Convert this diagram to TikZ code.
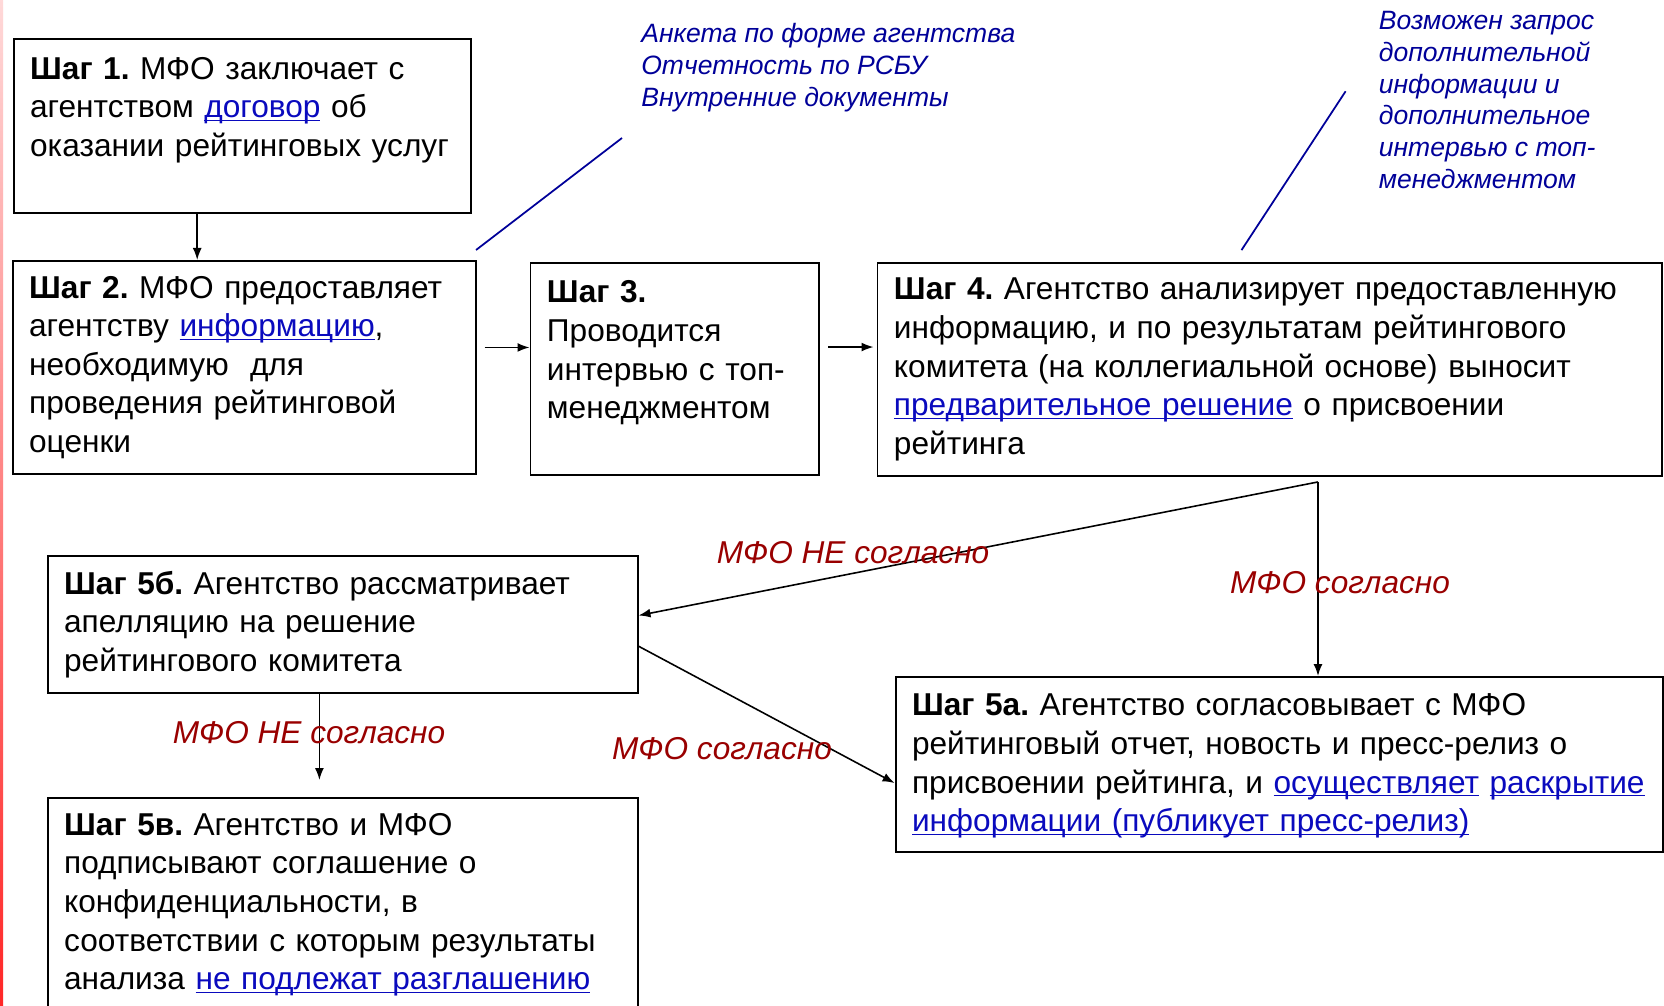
\documentclass[tikz,border=0pt]{standalone}
\usepackage{fontspec}
\setmainfont{Liberation Sans}
\usetikzlibrary{arrows.meta,calc}
\frenchspacing
\definecolor{ssyl}{RGB}{10,10,190}
\definecolor{siniy}{RGB}{0,0,153}
\definecolor{bordo}{RGB}{153,0,0}
\newcommand{\ssylka}[1]{\textcolor{ssyl}{\underline{\smash{#1}}}}
\tikzset{
  shag/.style={draw,line width=1.1pt,anchor=north west,align=left,inner xsep=0.33cm,inner ysep=0.3cm,
    font=\fontsize{18}{22}\selectfont},
  strelka/.style={line width=0.9pt,-{Latex[length=2.4mm,width=1.8mm]}},
  podpis/.style={text=bordo,font=\fontsize{18}{22}\selectfont\itshape,inner sep=0pt},
  primech/.style={text=siniy,font=\fontsize{15.1}{18.2}\selectfont\itshape,align=left,anchor=west,inner sep=0pt},
  vynoska/.style={draw=siniy,line width=1pt},
}

\begin{document}
\begin{tikzpicture}[x=0.02cm,y=-0.02cm]
  \useasboundingbox (0,0) rectangle (1664,1006);
  \clip (0,0) rectangle (1664,1006);
  \fill[white] (0,0) rectangle (1664,1006);
  \shade[top color=red!15,bottom color=red!85] (0,0) rectangle (3,1006);

  \node[shag,text width=8.49cm,minimum height=3.48cm] (b1) at (12.7,38.2)
    {\textbf{Шаг 1.} МФО заключает с\\ агентством \ssylka{договор} об\\ оказании рейтинговых услуг\\ \mbox{}};
  \node[shag,text width=8.61cm,minimum height=4.24cm] (b2) at (11.7,260)
    {\textbf{Шаг 2.} МФО предоставляет\\ агентству \ssylka{информацию},\\ необходимую\ \ для\\ проведения рейтинговой\\ оценки};
  \node[shag,text width=5.11cm,minimum height=4.24cm] (b3) at (529.5,262.1)
    {\textbf{Шаг 3.}\\ Проводится\\ интервью с топ-\\ менеджментом\\ \mbox{}};
  \node[shag,text width=15.03cm,minimum height=4.24cm] (b4) at (876.5,262.1)
    {\textbf{Шаг 4.} Агентство анализирует предоставленную\\ информацию, и по результатам рейтингового\\
     комитета (на коллегиальной основе) выносит\\ \ssylka{предварительное решение} о присвоении\\ рейтинга};
  \node[shag,text width=11.14cm,minimum height=2.74cm] (b5b) at (46.7,555)
    {\textbf{Шаг 5б.} Агентство рассматривает\\ апелляцию на решение\\ рейтингового комитета};
  \node[shag,text width=14.7cm,minimum height=3.5cm] (b5a) at (894.6,676)
    {\textbf{Шаг 5а.} Агентство согласовывает с МФО\\ рейтинговый отчет, новость и пресс-релиз о\\
     присвоении рейтинга, и \ssylka{осуществляет} \ssylka{раскрытие}\\ \ssylka{информации (публикует пресс-релиз)}};
  \node[shag,text width=11.14cm] (b5v) at (46.7,797)
    {\textbf{Шаг 5в.} Агентство и МФО\\ подписывают соглашение о\\ конфиденциальности, в\\
     соответствии с которым результаты\\ анализа \ssylka{не подлежат разглашению}\\ \mbox{}};

  \node[primech] (a1) at (641,68) {Анкета по форме агентства\\ Отчетность по РСБУ\\ Внутренние документы};
  \node[primech] (a2) at (1378.5,100) {Возможен запрос\\ дополнительной\\ информации и\\ дополнительное\\ интервью с топ-\\ менеджментом};
  \coordinate (n1) at (622,138); \coordinate (n2) at (1345.6,91.3);
  \draw[vynoska] ($(b2.north east)+(-1,-10)$) -- (n1);
  \draw[vynoska] ($(b4.north west)+(365,-12)$) -- (n2);

  \coordinate (s12) at ($(b1.south west)+(184.5,0)$);
  \draw[strelka] (s12) -- (s12 |- b2.north);
  \coordinate (s23) at ($(b2.east)+(0,-20)$);
  \draw[strelka,shorten <=0.15cm] (s23) -- (s23 -| b3.west);
  \coordinate (s34) at ($(b3.east)+(0,-22)$);
  \draw[strelka,shorten <=0.17cm,shorten >=0.06cm] (s34) -- (s34 -| b4.west);
  \coordinate (s4) at ($(b4.south west)+(441.5,5)$);
  \draw[strelka] (s4) -- (s4 |- b5a.north);
  \draw[strelka] (s4) -- ($(b5b.east)+(0,-9)$);
  \coordinate (s5) at ($(b5b.south west)+(272.7,0)$);
  \draw[strelka,shorten >=0.34cm] (s5) -- (s5 |- b5v.north);
  \draw[strelka] ($(b5b.east)+(0,21.7)$) -- ($(b5a.west)+(0,18.6)$);

  \node[podpis] (p1) at (853,553) {МФО НЕ согласно};
  \node[podpis] (p2) at (1340,583) {МФО согласно};
  \node[podpis] (p3) at (309,733) {МФО НЕ согласно};
  \node[podpis] (p4) at (722,749) {МФО согласно};
\end{tikzpicture}
\end{document}
